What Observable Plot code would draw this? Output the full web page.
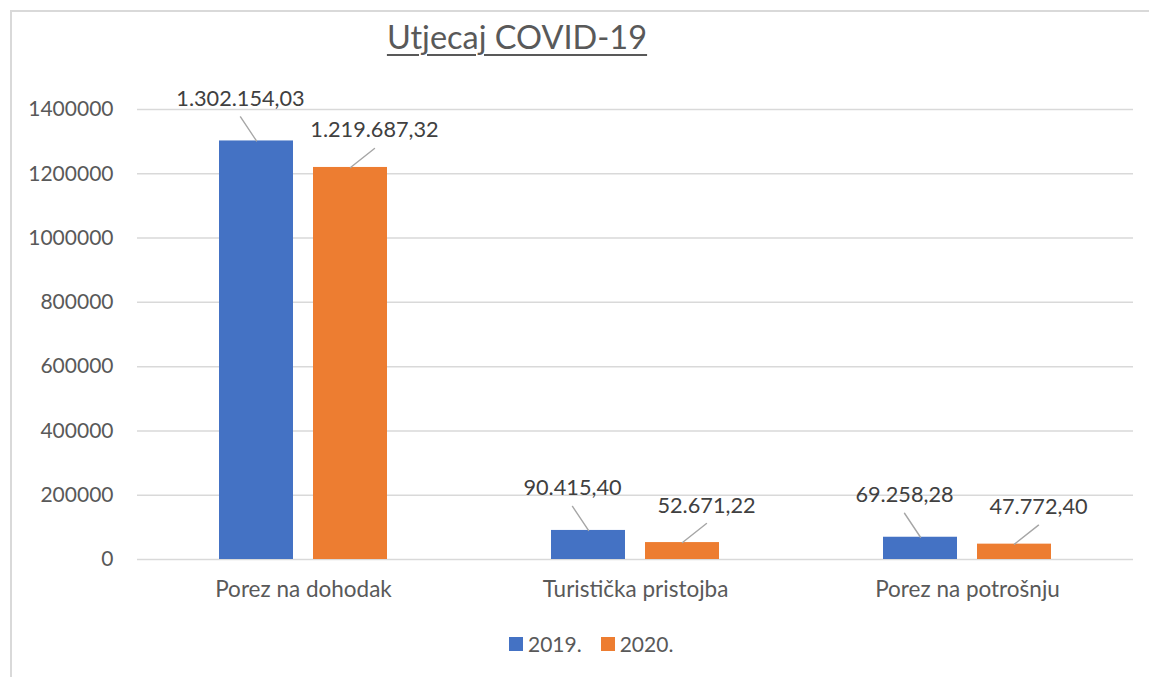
<!DOCTYPE html>
<html>
<head>
<meta charset="utf-8">
<script src="https://cdn.jsdelivr.net/npm/d3@7"></script>
<script src="https://cdn.jsdelivr.net/npm/@observablehq/plot@0.6"></script>
<style>
  body { margin: 0; background: #fff; font-family: Lato, "Open Sans", sans-serif; }
  #wrap { position: relative; width: 1149px; height: 677px; overflow: hidden; background: #fff; }
  #frame { position: absolute; left: 10px; top: 10px; right: -10px; bottom: -10px;
           border-left: 2px solid #d9d9d9; border-top: 2px solid #d9d9d9; }
  #title { position: absolute; top: 21px; left: 0; width: 1034px; text-align: center;
           font-size: 32.5px; line-height: 32.5px; color: #595959;
           text-decoration: underline; text-decoration-thickness: 2px; text-underline-offset: 5px; }
  #chart { position: absolute; top: 70px; left: 0; }
  #legend { position: absolute; top: 633px; left: 509px; height: 21px; display: flex; align-items: center;
            font-size: 21px; line-height: 21px; color: #595959; }
  .sw { width: 14px; height: 14px; display: inline-block; margin-right: 5px; }
  .item { display: flex; align-items: center; margin-right: 19px; }
</style>
</head>
<body>
<div id="wrap">
  <div id="frame"></div>
  <div id="title">Utjecaj COVID-19</div>
  <div id="chart"></div>
  <div id="legend"></div>
</div>
<script>
// ---- data ----
const categories = ["Porez na dohodak", "Turistička pristojba", "Porez na potrošnju"];
const seriesNames = ["2019.", "2020."];
const values2019 = [1302154.03, 90415.40, 69258.28];
const values2020 = [1219687.32, 52671.22, 47772.40];
const yTicks = [0, 200000, 400000, 600000, 800000, 1000000, 1200000, 1400000];

// ---- styling ----
const colors = ["#4472C4", "#ED7D31"];
const textColor = "#595959";
const labelColor = "#404040";
const gridColor = "#d9d9d9";
const leaderColor = "#a6a6a6";
// label offsets (pixels) relative to bar top centre, per series
const labelOffset = { "2019.": [-16, -42], "2020.": [24, -37] };
const leaderGap = 18;

const rows = [];
categories.forEach((c, i) => {
  rows.push({ category: c, series: seriesNames[0], value: values2019[i] });
  rows.push({ category: c, series: seriesNames[1], value: values2020[i] });
});

const hr = d3.formatLocale({ decimal: ",", thousands: ".", grouping: [3], currency: ["", ""] });
const fmt = hr.format(",.2f");

const lineShape = { draw(context, l) { context.moveTo(0, 0); context.lineTo(0, -l); } };

function leaderMarks(s) {
  const [ox, oy] = labelOffset[s];
  const ly = oy + leaderGap;
  const len = Math.hypot(ox, ly);
  const ang = Math.atan2(ox, -ly) * 180 / Math.PI;
  const data = rows.filter(d => d.series === s);
  return [
    Plot.vector(data, { fx: "category", x: "series", y: "value", length: len, rotate: ang,
      anchor: "start", shape: lineShape, stroke: leaderColor, strokeWidth: 1.4 }),
    Plot.text(data, { fx: "category", x: "series", y: "value", text: d => fmt(d.value),
      dx: ox, dy: oy, fontSize: 21.7, fill: labelColor, textAnchor: "middle", lineAnchor: "middle" })
  ];
}

const chart = Plot.plot({
  width: 1149,
  height: 550,
  marginLeft: 136,
  marginRight: 16,
  marginTop: 39,
  marginBottom: 61,
  style: { fontFamily: "Lato, 'Open Sans', sans-serif", color: textColor, background: "transparent" },
  fx: { domain: categories, padding: 0 },
  x: { domain: seriesNames, paddingInner: 0.2105, paddingOuter: 0.855, axis: null },
  y: { domain: [0, 1400000] },
  color: { domain: seriesNames, range: colors },
  marks: [
    Plot.gridY(yTicks, { stroke: gridColor, strokeOpacity: 1, strokeWidth: 1.5 }),
    Plot.axisY(yTicks, { tickSize: 0, tickPadding: 24, tickFormat: d => String(d), fontSize: 21, label: null }),
    Plot.axisFx({ anchor: "bottom", tickSize: 0, tickPadding: 22, fontSize: 22.5, label: null }),
    Plot.barY(rows, { fx: "category", x: "series", y: "value", fill: "series" }),
    ...leaderMarks("2019."),
    ...leaderMarks("2020.")
  ]
});
document.getElementById("chart").appendChild(chart);

const legend = document.getElementById("legend");
seriesNames.forEach((s, i) => {
  const it = document.createElement("div");
  it.className = "item";
  const sw = document.createElement("span");
  sw.className = "sw";
  sw.style.background = colors[i];
  const t = document.createElement("span");
  t.textContent = s;
  it.appendChild(sw); it.appendChild(t);
  legend.appendChild(it);
});
</script>
</body>
</html>
